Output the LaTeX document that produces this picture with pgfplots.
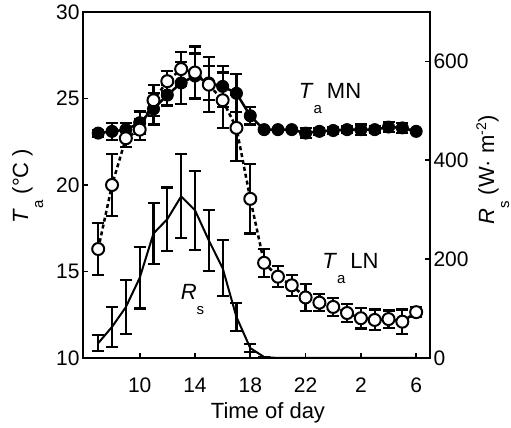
\documentclass[border=0pt]{standalone}
\usepackage{fontspec}
\setmainfont{Liberation Sans}
\usepackage{pgfplots}
\usepackage{pgfplotstable}
\pgfplotsset{compat=1.18}

\pgfplotstableread{
x y e
7 23.0 0.2
8 23.1 0.5
9 23.2 0.4
10 23.6 0.65
11 24.4 0.9
12 25.2 0.6
13 25.9 1.2
14 26.3 1.3
15 25.9 1.0
16 25.7 1.2
17 25.3 1.1
18 24.0 0.5
19 23.2 0.1
20 23.2 0.1
21 23.2 0.1
22 23.0 0.3
23 23.1 0.2
24 23.15 0.2
25 23.2 0.2
26 23.2 0.3
27 23.2 0.2
28 23.35 0.3
29 23.3 0.3
30 23.1 0.1
}\mntab

\pgfplotstableread{
x y e
7 16.3 1.5
8 20.0 1.8
9 22.7 0.5
10 23.2 0.6
11 24.9 0.9
12 26.0 0.6
13 26.7 1.0
14 26.5 1.5
15 25.8 1.6
16 24.9 1.6
17 23.3 1.9
18 19.2 2.0
19 15.5 0.8
20 14.7 0.6
21 14.2 0.6
22 13.5 0.8
23 13.2 0.5
24 12.95 0.5
25 12.6 0.5
26 12.3 0.6
27 12.2 0.6
28 12.25 0.5
29 12.1 0.7
30 12.65 0.3
}\lntab

\pgfplotstableread{
x y e
7 30 16
8 63 40
9 103 55
10 162 62
11 252 62
12 281 64
13 327 85
14 299 80
15 238 62
16 182 56
17 83 29
18 20 8
19 2 0
20 0 0
21 0 0
22 0 0
23 0 0
24 0 0
25 0 0
26 0 0
27 0 0
28 0 0
29 0 0
30 0 0
}\rstab

\newcommand{\sub}[1]{\raisebox{-15bp}{\fontsize{15bp}{15bp}\selectfont #1}}

\begin{document}
\begin{tikzpicture}
\pgfplotsset{
  common/.style={
    at={(0,0)}, anchor=south west, scale only axis,
    width=347bp, height=346bp,
    xmin=5.9, xmax=31,
    tick align=inside, major tick length=5bp,
    axis line style={line width=2bp},
    every tick/.append style={line width=1.8bp, black},
    tick label style={font=\fontsize{21bp}{24bp}\selectfont},
    label style={font=\fontsize{22bp}{26bp}\selectfont},
    /pgf/number format/assume math mode=true,
  },
  ebars/.style={error bars/.cd, y dir=both, y explicit,
    error bar style={solid, line width=2.2bp, black},
    error mark options={solid, rotate=90, mark size=6bp, line width=2.2bp, black}},
}
\begin{axis}[common,
  ymin=10, ymax=30, ytick={10,15,20,25,30},
  xtick={10,14,18,22,26,30}, xticklabels={10,14,18,22,2,6},
  xtick pos=bottom, ytick pos=left,
  xticklabel style={anchor=base, yshift=-34bp},
  xlabel={Time of day},
  xlabel style={at={(axis description cs:0.533,-0.176)}, anchor=base},
  ylabel={\textit{T}\sub{a} (°C )},
  ylabel style={at={(axis description cs:-0.158,0.497)}, anchor=base},
]
% Ta MN: line and error bars, then filled marks
\addplot[black, line width=2.5bp, mark=none, ebars]
  table[x=x, y=y, y error=e] {\mntab};
\addplot[only marks, mark=*, mark size=6bp,
  mark options={solid, fill=black, draw=black, line width=1pt}]
  table[x=x, y=y] {\mntab};
% Ta LN: dashed line and error bars, then open marks on top
\addplot[black, line width=2.5bp, dash pattern=on 4bp off 3bp, mark=none, ebars]
  table[x=x, y=y, y error=e] {\lntab};
\addplot[only marks, mark=*, mark size=6bp,
  mark options={solid, fill=white, draw=black, line width=2bp}]
  table[x=x, y=y] {\lntab};
\node[anchor=base west, inner sep=0, font=\fontsize{22bp}{26bp}\selectfont]
  at (axis cs:21.5,25.0) {\textit{T}\sub{a}\hspace{5bp}MN};
\node[anchor=base west, inner sep=0, font=\fontsize{22bp}{26bp}\selectfont]
  at (axis cs:23.2,15.2) {\textit{T}\sub{a}\hspace{5bp}LN};
\node[anchor=base west, inner sep=0, font=\fontsize{22bp}{26bp}\selectfont]
  at (axis cs:12.96,13.4) {\textit{R}\sub{s}};
\end{axis}
\begin{axis}[common,
  ymin=0, ymax=700, ytick={0,200,400,600},
  axis y line*=right, axis x line=none,
  ylabel={\textit{R}\sub{s} (W· m\raisebox{8bp}{\fontsize{14bp}{14bp}\selectfont -2})},
  ylabel style={at={(axis description cs:1.185,0.543)}, anchor=base},
]
\addplot[black, line width=2bp, mark=none, ebars]
  table[x=x, y=y, y error=e] {\rstab};
\end{axis}
\pgfresetboundingbox
\useasboundingbox (-83bp,-70bp) rectangle (428bp,358bp);
\end{tikzpicture}
\end{document}
